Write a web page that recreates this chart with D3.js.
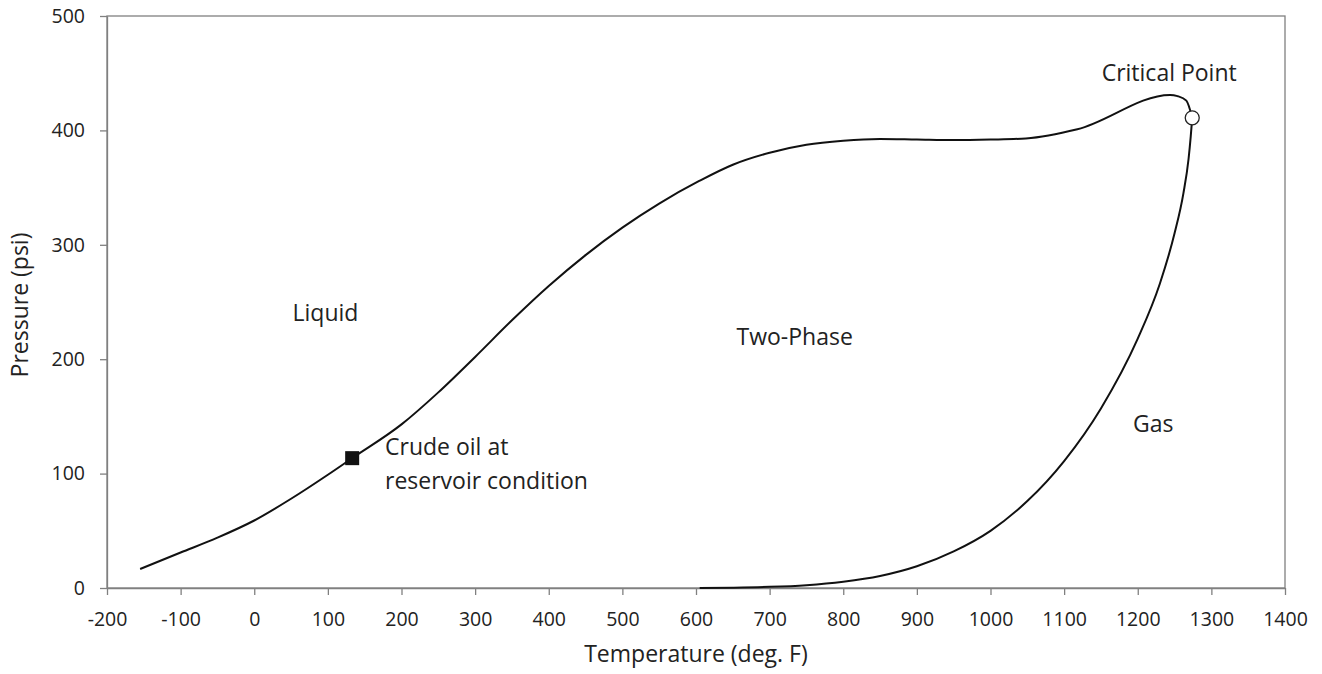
<!DOCTYPE html>
<html>
<head>
<meta charset="utf-8">
<script src="https://cdn.jsdelivr.net/npm/d3@7"></script>
<style>
  body { margin: 0; background: #fff; }
  text { font-family: "Open Sans", sans-serif; fill: #222; }
</style>
</head>
<body>
<div id="chart"></div>
<script>
// bubble point line (temperature F, pressure psi)
var bubbleT = [-155, -100, -50, 0, 50, 100, 133, 200, 250, 300, 350, 400, 450, 500, 550, 605, 650, 700, 750, 800, 850, 900, 950, 1000, 1048, 1118, 1244, 1254, 1266, 1274];
var bubbleP = [16.6, 31, 44, 59, 78, 99, 113.5, 143, 171, 202, 234, 264, 291, 315, 336, 356, 370, 380.5, 387.5, 391, 392.5, 392, 391.5, 392, 393, 401, 431, 430, 426, 411];

// dew point line
var dewT = [605, 650, 700, 750, 800, 850, 900, 950, 1000, 1050, 1100, 1150, 1200, 1230, 1250, 1262, 1269, 1272, 1274];
var dewP = [0, 0.3, 1, 2.5, 5.5, 10.5, 19, 32, 50, 76, 111, 157, 218, 266, 310, 345, 375, 395, 411];

var reservoir = [133, 113.5];
var critical = [1274, 411];

var xTicks = [-200, -100, 0, 100, 200, 300, 400, 500, 600, 700, 800, 900, 1000, 1100, 1200, 1300, 1400];
var yTicks = [0, 100, 200, 300, 400, 500];

var margin = { top: 16, right: 37, bottom: 86, left: 107 };
var width = 1322 - margin.left - margin.right;
var height = 674 - margin.top - margin.bottom;

var svg = d3.select("#chart")
  .append("svg")
  .attr("width", width + margin.left + margin.right)
  .attr("height", height + margin.top + margin.bottom)
  .append("g")
  .attr("transform", "translate(" + margin.left + "," + margin.top + ")");

var x = d3.scaleLinear().domain([-200, 1400]).range([0, width]);
var y = d3.scaleLinear().domain([0, 500]).range([height, 0]);

// frame
svg.append("rect")
  .attr("width", width).attr("height", height)
  .style("fill", "none").style("stroke", "#808080").style("stroke-width", 1.3);

var fmt = function(d) { return String(d); };

var xAxis = svg.append("g")
  .attr("transform", "translate(0," + height + ")")
  .call(d3.axisBottom(x).tickValues(xTicks).tickFormat(fmt).tickSize(7).tickPadding(17).tickSizeOuter(0));

var yAxis = svg.append("g")
  .call(d3.axisLeft(y).tickValues(yTicks).tickFormat(fmt).tickSize(7).tickPadding(15).tickSizeOuter(0));

[xAxis, yAxis].forEach(function(a) {
  a.select(".domain").style("stroke", "#808080").style("stroke-width", 1.3);
  a.selectAll(".tick line").style("stroke", "#808080").style("stroke-width", 1.3);
  a.selectAll("text").style("font-family", "Open Sans").style("font-size", "19.5px").style("fill", "#222");
});

svg.append("text")
  .attr("x", width / 2).attr("y", height + 74)
  .attr("text-anchor", "middle")
  .style("font-size", "23px")
  .text("Temperature (deg. F)");

svg.append("text")
  .attr("transform", "translate(-79," + (height / 2 + 3) + ") rotate(-90)")
  .attr("text-anchor", "middle")
  .style("font-size", "23px")
  .text("Pressure (psi)");

var line = d3.line()
  .x(function(d) { return x(d[0]); })
  .y(function(d) { return y(d[1]); })
  .curve(d3.curveMonotoneX);

var bubble = bubbleT.map(function(t, i) { return [t, bubbleP[i]]; });
var dew = dewT.map(function(t, i) { return [t, dewP[i]]; });

svg.append("path")
  .datum(bubble)
  .attr("d", line)
  .style("fill", "none").style("stroke", "#111").style("stroke-width", 2);

svg.append("path")
  .datum(dew)
  .attr("d", line)
  .style("fill", "none").style("stroke", "#111").style("stroke-width", 2);

svg.append("rect")
  .attr("x", x(reservoir[0]) - 7).attr("y", y(reservoir[1]) - 7)
  .attr("width", 14).attr("height", 14)
  .style("fill", "#111");

svg.append("circle")
  .attr("cx", x(critical[0])).attr("cy", y(critical[1]))
  .attr("r", 7)
  .style("fill", "#fff").style("stroke", "#222").style("stroke-width", 1.3);

// region labels
var labels = [
  { t: "Liquid", x: 52, y: 233.6 },
  { t: "Two-Phase", x: 655, y: 212 },
  { t: "Gas", x: 1193.6, y: 136.5 },
  { t: "Crude oil at", x: 177.6, y: 116 },
  { t: "reservoir condition", x: 177.6, y: 86.6 },
  { t: "Critical Point", x: 1151, y: 443 }
];

svg.selectAll(".lbl")
  .data(labels)
  .enter().append("text")
  .attr("class", "lbl")
  .attr("x", function(d) { return x(d.x); })
  .attr("y", function(d) { return y(d.y); })
  .style("font-size", "23px")
  .text(function(d) { return d.t; });
</script>
</body>
</html>
